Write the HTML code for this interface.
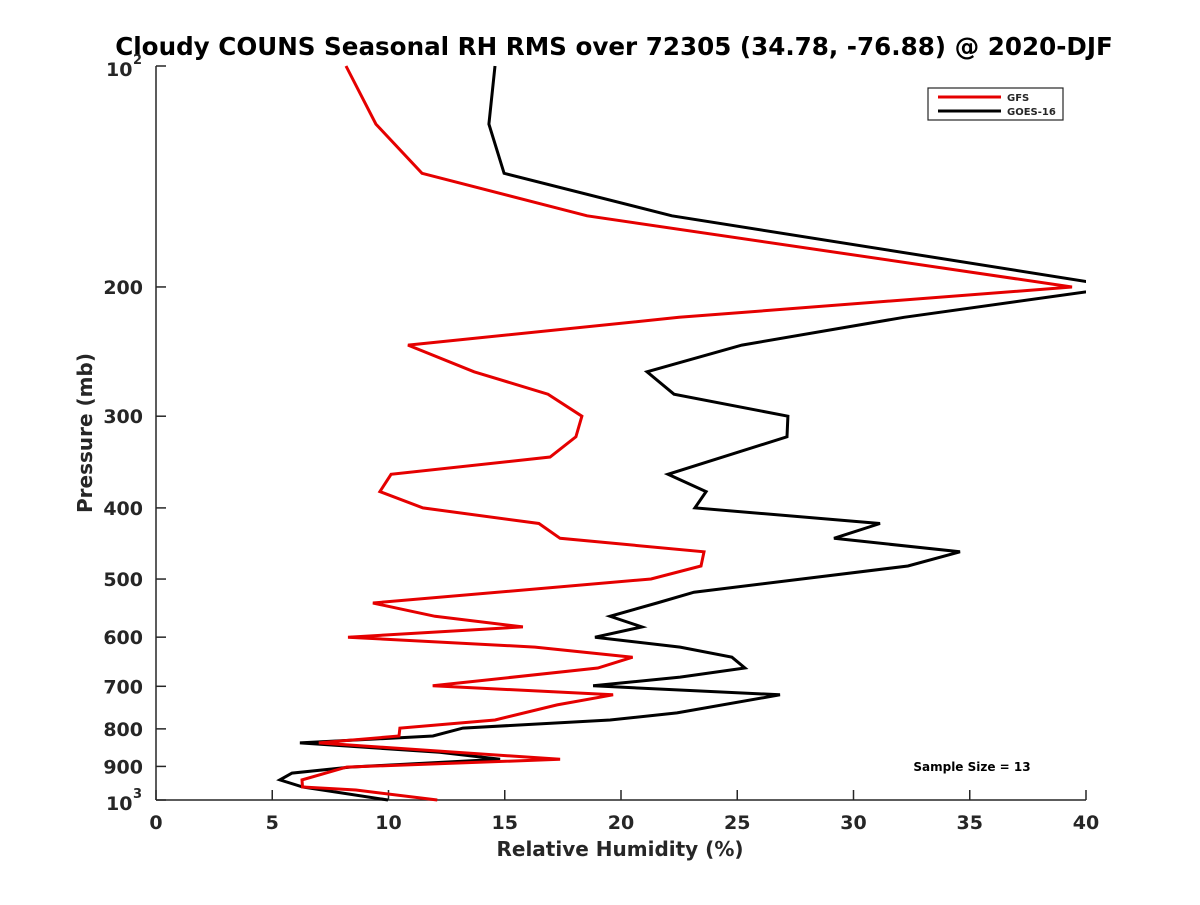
<!DOCTYPE html>
<html><head><meta charset="utf-8"><style>
body{margin:0;background:#fff;}
svg text{font-family:"DejaVu Sans","Liberation Sans",sans-serif;font-weight:bold;fill:#262626;}
</style></head><body>
<svg id="chart" width="1200" height="900" viewBox="0 0 1200 900" xmlns="http://www.w3.org/2000/svg">
<defs><clipPath id="plotclip"><rect x="156" y="60" width="930" height="745"/></clipPath></defs>
<text x="614" y="55" text-anchor="middle" font-size="24.6" style="fill:#000">Cloudy COUNS Seasonal RH RMS over 72305 (34.78, -76.88) @ 2020-DJF</text>
<g id="axes"></g>
<g id="series" clip-path="url(#plotclip)"></g>
<text x="620" y="856" text-anchor="middle" font-size="20">Relative Humidity (%)</text>
<text transform="translate(92,433) rotate(-90)" text-anchor="middle" font-size="20">Pressure (mb)</text>
<g>
<rect x="928" y="88" width="135" height="32" fill="#fff" stroke="#262626" stroke-width="1.2"/>
<line x1="938" y1="97" x2="1001" y2="97" stroke="#e50000" stroke-width="3"/>
<text x="1007" y="101" font-size="10">GFS</text>
<line x1="938" y1="111" x2="1001" y2="111" stroke="#000" stroke-width="3"/>
<text x="1007" y="115" font-size="10">GOES-16</text>
</g>
<text x="972" y="771" text-anchor="middle" font-size="12" style="fill:#000">Sample Size = 13</text>
</svg>
<script>
const gfsPressure=[100,120,140,160,200,220,240,261,280,300,320,341,360,380,400,420,440,459,480,500,539,562,581,600,619,639,661,699,719,742,778,798,818,836,880,902,939,960,969,1000];
const gfsRH=[8.17,9.46,11.44,18.54,39.4,22.5,10.84,13.68,16.86,18.32,18.06,16.95,10.11,9.63,11.48,16.47,17.38,23.57,23.44,21.29,9.33,12.0,15.78,8.26,16.3,20.5,19.0,11.9,19.66,17.25,14.58,10.49,10.45,7.0,17.38,8.2,6.28,6.3,8.6,12.1];
const goesPressure=[100,120,140,160,200,220,240,261,280,300,320,360,380,400,420,440,459,480,521,539,562,581,600,619,639,661,680,699,719,761,778,798,818,836,861,880,902,919,939,960,1000];
const goesRH=[14.58,14.32,14.97,22.19,41.5,32.17,25.2,21.12,22.28,27.18,27.14,22.02,23.66,23.18,31.14,29.16,34.58,32.34,23.14,21.55,19.53,20.9,18.88,22.54,24.77,25.33,22.54,18.8,26.84,22.41,19.53,13.2,11.91,6.19,12.2,14.8,8.34,5.85,5.33,6.32,9.98];
const xTicks=[0,5,10,15,20,25,30,35,40];
const yTicks=[200,300,400,500,600,700,800,900];

const X0=156,X1=1086,Y0=66,Y1=800,XMAX=40;
function xs(v){return X0+(v/XMAX)*(X1-X0);}
function ys(p){return Y0+(Math.log10(p)-2)*(Y1-Y0);}
const NS='http://www.w3.org/2000/svg';
function mk(tag,attrs,parent){const e=document.createElementNS(NS,tag);for(const k in attrs)e.setAttribute(k,attrs[k]);parent.appendChild(e);return e;}
const axes=document.getElementById('axes');
const series=document.getElementById('series');

let e=mk('line',{x1:X0,y1:Y0,x2:X0,y2:Y1,stroke:'#262626','stroke-width':1.5},axes);


e=mk('line',{x1:X0,y1:Y1,x2:X1,y2:Y1,stroke:'#262626','stroke-width':1.5},axes);



xTicks.forEach(t=>{
  const x=xs(t);
  let l=mk('line',{x1:x,y1:Y1,x2:x,y2:Y1-10,stroke:'#262626','stroke-width':1.5},axes);
  
  
  let tx=mk('text',{x:x,y:829,'text-anchor':'middle','font-size':19},axes);
  tx.textContent=t;
  
  
});
[100,1000].concat(yTicks).forEach(p=>{
  const y=ys(p);
  let l=mk('line',{x1:X0,y1:y,x2:X0+10,y2:y,stroke:'#262626','stroke-width':1.5},axes);
  
  
});
yTicks.forEach(p=>{
  let tx=mk('text',{x:143,y:ys(p)+7,'text-anchor':'end','font-size':19},axes);
  tx.textContent=p;
  
  
});
[[100,'2'],[1000,'3']].forEach(([p,s])=>{
  let tx=mk('text',{x:106,y:ys(p)+10,'font-size':19},axes);
  tx.textContent='10';
  
  
  let sup=mk('text',{x:133,y:ys(p)-2,'font-size':13},axes);
  sup.textContent=s;
  
  
});

function drawLine(P,R,color,name){
  const pts=P.map((p,i)=>xs(R[i]).toFixed(1)+','+ys(p).toFixed(1)).join(' ');
  const pl=mk('polyline',{points:pts,fill:'none',stroke:color,'stroke-width':3,'stroke-linejoin':'miter'},series);
  
  
}
drawLine(goesPressure,goesRH,'#000','goes16-line');
drawLine(gfsPressure,gfsRH,'#e50000','gfs-line');
</script>
</body></html>
